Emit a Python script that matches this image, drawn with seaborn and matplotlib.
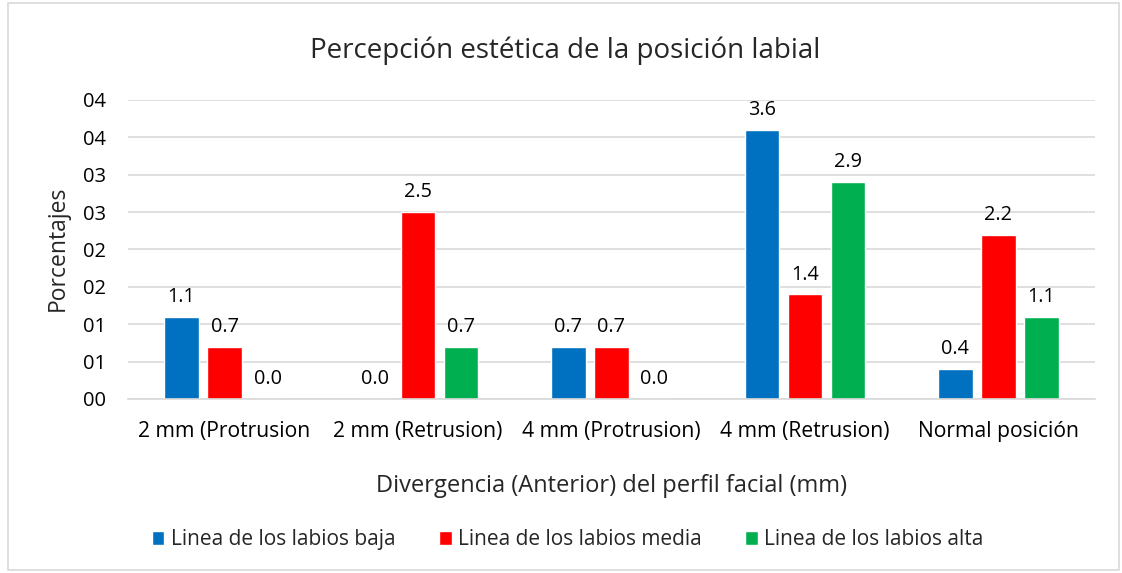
import numpy as np
import pandas as pd
import matplotlib
matplotlib.use("Agg")
import matplotlib.pyplot as plt
import seaborn as sns
from matplotlib.patches import Rectangle

# Chart data
categories = ["2 mm (Protrusion", "2 mm (Retrusion)", "4 mm (Protrusion)",
              "4 mm (Retrusion)", "Normal posición"]
series_names = ["Linea de los labios baja", "Linea de los labios media",
                "Linea de los labios alta"]
baja = [1.1, 0.0, 0.7, 3.6, 0.4]
media = [0.7, 2.5, 0.7, 1.4, 2.2]
alta = [0.0, 0.7, 0.0, 2.9, 1.1]
y_ticks = [0, 0.5, 1.0, 1.5, 2.0, 2.5, 3.0, 3.5, 4.0]
y_tick_labels = ["00", "01", "01", "02", "02", "03", "03", "04", "04"]

colors = ["#0070C0", "#FF0000", "#00B050"]

df = pd.DataFrame({
    "Categoria": categories * 3,
    "Serie": [series_names[0]] * 5 + [series_names[1]] * 5 + [series_names[2]] * 5,
    "Valor": baja + media + alta,
})

sns.set_theme(style="white")
plt.rcParams["font.family"] = ["Open Sans", "DejaVu Sans"]

fig = plt.figure(figsize=(11.22, 5.73), dpi=100)
ax = fig.add_axes([0.114, 0.3037, 0.862, 0.5218])

sns.barplot(data=df, x="Categoria", y="Valor", hue="Serie", order=categories,
            hue_order=series_names, palette=colors, width=0.667, gap=0.2,
            saturation=1, ax=ax, legend=True)

# value labels
for container in ax.containers:
    ax.bar_label(container, fmt="%.1f", padding=7, fontsize=14.3, color="#000000")

ax.set_ylim(0, 4)
ax.set_yticks(y_ticks)
ax.set_yticklabels(y_tick_labels)
ax.yaxis.grid(True, color="#d9d9d9", linewidth=1.2)
ax.set_axisbelow(True)
for s in ["top", "right", "left"]:
    ax.spines[s].set_visible(False)
ax.spines["bottom"].set_color("#d9d9d9")
ax.spines["bottom"].set_linewidth(1.2)
ax.tick_params(axis="both", length=0, labelsize=14.5, colors="#000000")
ax.tick_params(axis="x", labelsize=15.2, pad=16)
ax.tick_params(axis="y", pad=16)

ax.set_xlabel("Divergencia (Anterior) del perfil facial (mm)", fontsize=17, labelpad=23)
ax.set_ylabel("Porcentajes", fontsize=16.5)
ax.yaxis.set_label_coords(-0.06, 0.505)
fig.text(0.504, 0.912, "Percepción estética de la posición labial", ha="center",
         va="center", fontsize=20)

ax.legend(loc="center", bbox_to_anchor=(0.506, 0.058), bbox_transform=fig.transFigure,
          ncol=3, frameon=False, fontsize=15, handlelength=0.6, handleheight=0.6,
          handletextpad=0.3, columnspacing=2.1)

# light chart border
fig.patches.append(Rectangle((0.007, 0.005), 0.99, 0.99, transform=fig.transFigure,
                             fill=False, edgecolor="#d9d9d9", linewidth=1.2))

fig.savefig("out.png", dpi=100)
